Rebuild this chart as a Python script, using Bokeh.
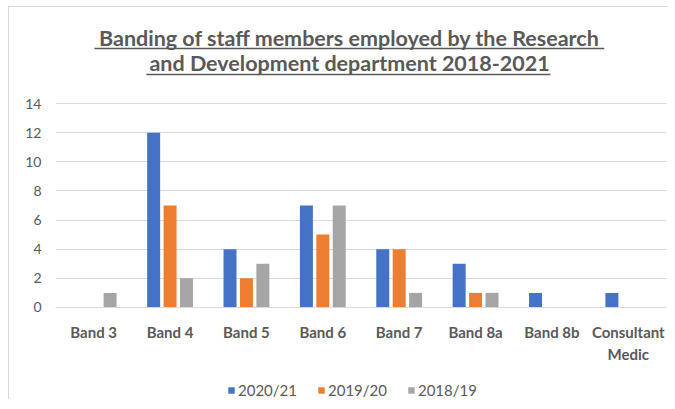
from bokeh.plotting import figure
from bokeh.models import ColumnDataSource, FactorRange, Range1d, FixedTicker, Legend, LegendItem
from bokeh.transform import dodge
from bokeh.core.properties import value
from bokeh.embed import file_html
from bokeh.resources import INLINE

categories = ["Band 3", "Band 4", "Band 5", "Band 6", "Band 7", "Band 8a", "Band 8b", "Consultant\nMedic"]
series_names = ["2020/21", "2019/20", "2018/19"]
v_2020_21 = [0, 12, 4, 7, 4, 3, 1, 1]
v_2019_20 = [0, 7, 2, 5, 4, 1, 0, 0]
v_2018_19 = [1, 2, 3, 7, 1, 1, 0, 0]
y_ticks = [0, 2, 4, 6, 8, 10, 12, 14]
title_lines = ["Banding of staff members employed by the Research",
               "and Development department 2018-2021"]

colors = ["#4472C4", "#ED7D31", "#A5A5A5"]
TXT = "#595959"
FONT = "Lato"

src = ColumnDataSource(dict(cat=categories, a=v_2020_21, b=v_2019_20, c=v_2018_19))

p = figure(x_range=FactorRange(*categories, range_padding=0), y_range=Range1d(-6.32, 19.77),
           frame_width=611, frame_height=380, output_backend="svg", toolbar_location=None,
           min_border_left=46, min_border_right=2, min_border_top=12, min_border_bottom=0)
p.styles = {"border-left": "1px solid #d9d9d9", "border-top": "1px solid #d9d9d9",
            "margin-left": "8px", "margin-top": "6px"}
p.outline_line_color = None
p.background_fill_color = "white"

renderers = []
for key, off, col in zip(["a", "b", "c"], [-0.215, 0.0, 0.215], colors):
    r = p.vbar(x=dodge("cat", off, range=p.x_range), top=key, width=0.17, source=src,
               fill_color=col, line_color=None)
    renderers.append(r)

# title (two lines, underlined)
p.text(x=[3.85, 3.85], y=[18.50, 16.78], text=title_lines, text_align="center",
       text_baseline="middle", text_font=value(FONT), text_font_style="bold",
       text_font_size="21.5px", text_color=TXT)
p.segment(x0=[0.51, 1.19], y0=[17.78, 15.99], x1=[7.186, 6.48], y1=[17.78, 15.99],
          line_color=TXT, line_width=1.5)

p.yaxis.ticker = FixedTicker(ticks=y_ticks)
p.yaxis.axis_line_color = None
p.yaxis.major_tick_line_color = None
p.yaxis.minor_tick_line_color = None
p.yaxis.major_tick_out = 0
p.yaxis.major_label_text_font = FONT
p.yaxis.major_label_text_font_size = "14px"
p.yaxis.major_label_text_color = TXT
p.yaxis.major_label_standoff = 14

p.xaxis.fixed_location = 0
p.xaxis.axis_line_color = "#d9d9d9"
p.xaxis.major_tick_line_color = None
p.xaxis.minor_tick_line_color = None
p.xaxis.major_tick_out = 0
p.xaxis.major_label_text_font = FONT
p.xaxis.major_label_text_font_style = "bold"
p.xaxis.major_label_text_font_size = "15px"
p.xaxis.major_label_text_color = TXT
p.xaxis.major_label_standoff = 16

p.xgrid.grid_line_color = None
p.ygrid.grid_line_color = "#d9d9d9"

legend = Legend(items=[LegendItem(label=n, renderers=[r]) for n, r in zip(series_names, renderers)],
                orientation="horizontal", location=(172, 0), glyph_width=8, glyph_height=8,
                label_text_font=FONT, label_text_font_size="15px", label_text_color=TXT,
                label_standoff=3, spacing=20, border_line_color=None, background_fill_alpha=0,
                margin=0, padding=0)
p.add_layout(legend, "center")

open("out.html", "w").write(file_html(p, INLINE))
